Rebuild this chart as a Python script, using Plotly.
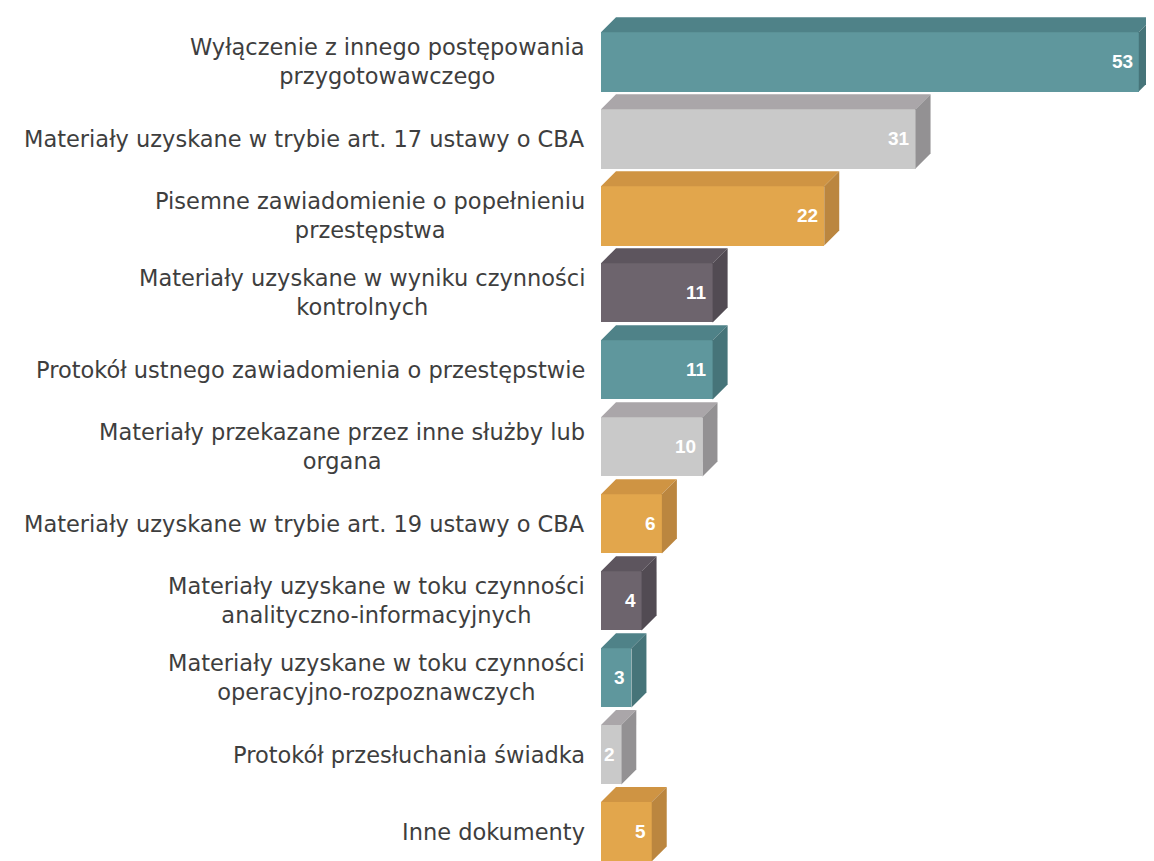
import plotly.graph_objects as go

categories = [
    "Wyłączenie z innego postępowania<br>przygotowawczego",
    "Materiały uzyskane w trybie art. 17 ustawy o CBA",
    "Pisemne zawiadomienie o popełnieniu<br>przestępstwa",
    "Materiały uzyskane w wyniku czynności<br>kontrolnych",
    "Protokół ustnego zawiadomienia o przestępstwie",
    "Materiały przekazane przez inne służby lub<br>organa",
    "Materiały uzyskane w trybie art. 19 ustawy o CBA",
    "Materiały uzyskane w toku czynności<br>analityczno-informacyjnych",
    "Materiały uzyskane w toku czynności<br>operacyjno-rozpoznawczych",
    "Protokół przesłuchania świadka",
    "Inne dokumenty",
]
values = [53, 31, 22, 11, 11, 10, 6, 4, 3, 2, 5]

# palette: (front, top, side)
palette = [
    ("#5f979d", "#4f8288", "#467479"),   # teal
    ("#c9c9c9", "#aaa6a9", "#939193"),   # light gray
    ("#e2a64c", "#cf9443", "#bb863f"),   # gold
    ("#6d646d", "#5d555e", "#524b53"),   # dark gray-purple
]

# page has an 8px body margin, so the figure is sized to fit the window
W, H = 1146, 853
ML = 593
x_max = 54.5
y_top, y_bot = -0.70, 10.38
px_x = (W - ML) / x_max
px_y = H / (y_bot - y_top)
dx = 15 / px_x
dy = 15 / px_y
hw = 0.385

fig = go.Figure()
n = len(values)
ys = list(range(n))
cols = [palette[i % 4] for i in range(n)]

for i, v in enumerate(values):
    f, t, s = cols[i]
    top = i - hw
    bot = i + hw
    # top face
    fig.add_trace(go.Scatter(
        x=[0, dx, v + dx, v, 0], y=[top, top - dy, top - dy, top, top],
        fill="toself", fillcolor=t, mode="lines", line=dict(width=0, color=t),
        hoverinfo="skip", showlegend=False))
    # side face
    fig.add_trace(go.Scatter(
        x=[v, v + dx, v + dx, v, v], y=[top, top - dy, bot - dy, bot, top],
        fill="toself", fillcolor=s, mode="lines", line=dict(width=0, color=s),
        hoverinfo="skip", showlegend=False))

fig.add_trace(go.Bar(
    x=values, y=ys, orientation="h", width=2 * hw,
    marker=dict(color=[c[0] for c in cols], line=dict(width=0)),
    hoverinfo="skip", showlegend=False))

annotations = []
for i, (c, v) in enumerate(zip(categories, values)):
    annotations.append(dict(
        x=0, y=i, xref="x", yref="y", text=c, showarrow=False,
        xanchor="right", yanchor="middle", align="center", xshift=-14,
        font=dict(family="DejaVu Sans", size=22.5, color="#3e3e3e")))
    annotations.append(dict(
        x=v, y=i, xref="x", yref="y", text=f"<b>{v}</b>", showarrow=False,
        xanchor="right", yanchor="middle", xshift=-4,
        font=dict(family="Liberation Sans", size=19, color="#ffffff")))

fig.update_layout(
    width=W, height=H,
    margin=dict(l=ML, r=0, t=0, b=0),
    paper_bgcolor="white", plot_bgcolor="white",
    xaxis=dict(range=[0, x_max], visible=False, fixedrange=True),
    yaxis=dict(range=[y_bot, y_top], visible=False, fixedrange=True),
    annotations=annotations,
    bargap=0,
)

fig.write_html("out.html")
